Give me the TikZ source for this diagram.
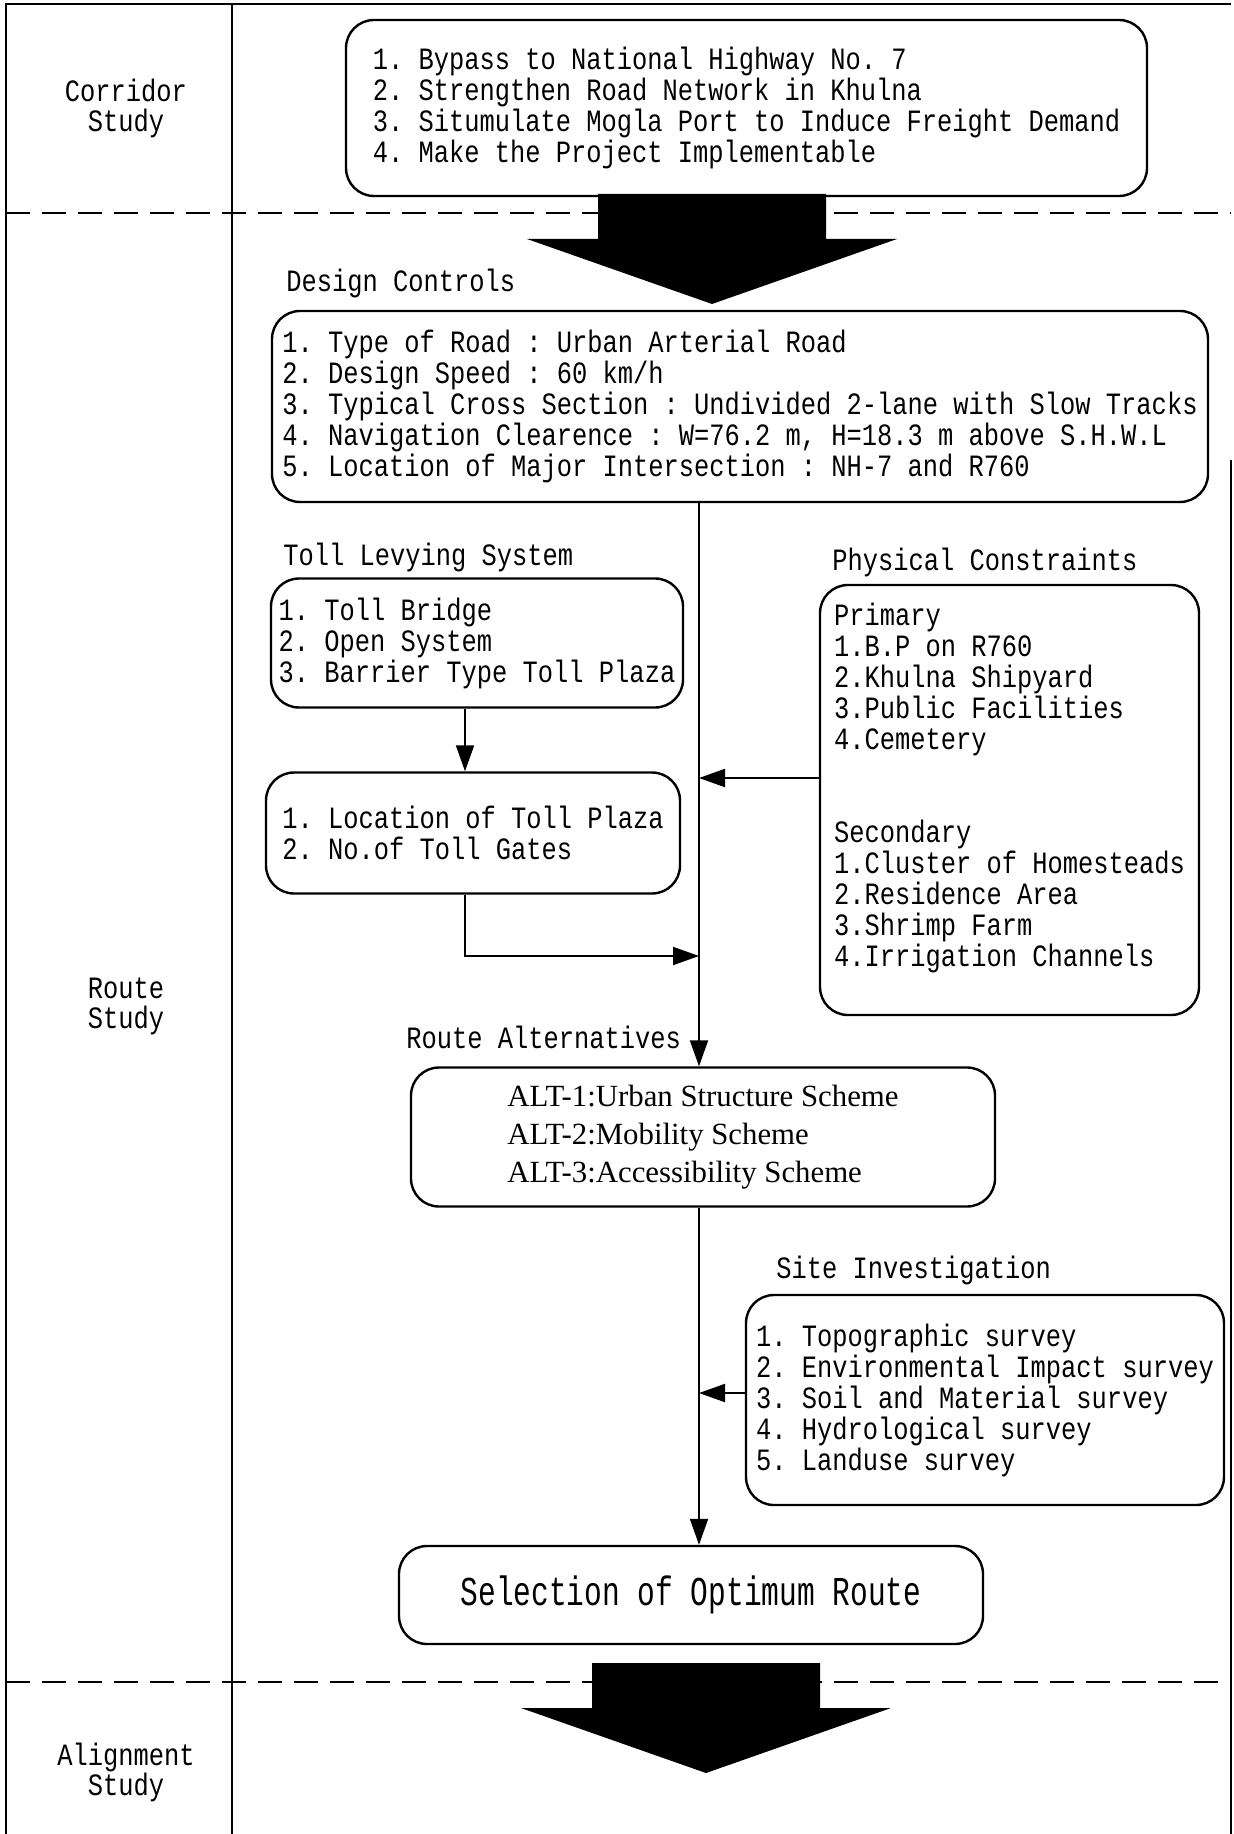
\documentclass[tikz,border=0pt]{standalone}
\usepackage{fontspec}
\newfontfamily\monofont[FakeStretch=0.82]{Liberation Mono}
\newfontfamily\bigmono[FakeStretch=0.72]{Liberation Mono}
\newfontfamily\altfont{Liberation Serif}
\usepackage{tikz}
\usetikzlibrary{arrows.meta,positioning,calc}
\tikzset{
  stepbox/.style={draw,line width=1.2pt,rounded corners=14pt,align=left,inner sep=0pt,
    font=\monofont\fontsize{15.5}{15.5}\selectfont},
  boxlabel/.style={anchor=west,inner sep=0pt,font=\monofont\fontsize{15.5}{15.5}\selectfont},
  stagelabel/.style={align=center,inner sep=0pt,font=\monofont\fontsize{15.5}{15}\selectfont},
  flowarrow/.style={-{Triangle[length=13pt,width=9pt]},line width=1pt},
  stageline/.style={line width=1pt,dash pattern=on 12pt off 6pt},
  framerule/.style={line width=1pt},
  bigdown/.pic={\fill (-114,0) -- (114,0) -- (114,45) -- (185,45) -- (0,110) -- (-185,45) -- (-114,45) -- cycle;}
}
\frenchspacing

\begin{document}
\begin{tikzpicture}[x=0.5pt,y=-0.5pt]
  \useasboundingbox (0,0) rectangle (1234,1834);
  % frame and stage rows
  \draw[framerule] (6,1834) -- (6,4) -- (1231,4);
  \draw[framerule] (1231,460) -- (1231,1834);
  \draw[framerule] (232,4) -- (232,1834);
  \draw[stageline] (6,213) -- (1231,213);
  \draw[stageline] (6,1682) -- (1231,1682);
  \node[stagelabel] (corridor) at (126,108) {Corridor\\Study};
  \node[stagelabel] (route) at (126,1006) {Route\\Study};
  \node[stagelabel] (alignment) at (126,1772) {Alignment\\Study};

  % corridor study
  \node[stepbox,minimum width=400.5pt,minimum height=88pt] (goals) at (746.5,108)
    {1. Bypass to National Highway No. 7\\
     2. Strengthen Road Network in Khulna\\
     3. Situmulate Mogla Port to Induce Freight Demand\\
     4. Make the Project Implementable};
  \pic at (712,194) {bigdown};

  % route study
  \node[boxlabel] (ctrllabel) at (286,283) {Design Controls};
  \node[stepbox,minimum width=468pt,minimum height=95.5pt] (ctrl) at (740,406.5)
    {1. Type of Road : Urban Arterial Road\\
     2. Design Speed : 60 km/h\\
     3. Typical Cross Section : Undivided 2-lane with Slow Tracks\\
     4. Navigation Clearence : W=76.2 m, H=18.3 m above S.H.W.L\\
     5. Location of Major Intersection : NH-7 and R760};

  \node[boxlabel] (tolllabel) at (283,557) {Toll Levying System};
  \node[stepbox,minimum width=206pt,minimum height=64.5pt] (toll) at (477,643)
    {1. Toll Bridge\\
     2. Open System\\
     3. Barrier Type Toll Plaza};
  \node[stepbox,minimum width=207pt,minimum height=60.5pt] (plaza) at (473,833)
    {1. Location of Toll Plaza\\
     2. No.of Toll Gates};

  \node[boxlabel] (physlabel) at (832,562) {Physical Constraints};
  \node[stepbox,minimum width=189.5pt,minimum height=215pt] (phys) at (1009.5,800)
    {Primary\\
     1.B.P on R760\\
     2.Khulna Shipyard\\
     3.Public Facilities\\
     4.Cemetery\\[31pt]
     Secondary\\
     1.Cluster of Homesteads\\
     2.Residence Area\\
     3.Shrimp Farm\\
     4.Irrigation Channels\\
     \mbox{}};

  \node[boxlabel] (altlabel) at (406,1037) {Route Alternatives};
  \node[stepbox,font=\altfont\fontsize{15.4}{19}\selectfont,minimum width=292pt,
    minimum height=69.5pt] (alt) at (703,1137)
    {ALT-1:Urban Structure Scheme\\
     ALT-2:Mobility Scheme\\
     ALT-3:Accessibility Scheme};

  \node[boxlabel] (sitelabel) at (776,1270) {Site Investigation};
  \node[stepbox,minimum width=239pt,minimum height=105pt] (site) at (985,1400)
    {1. Topographic survey\\
     2. Environmental Impact survey\\
     3. Soil and Material survey\\
     4. Hydrological survey\\
     5. Landuse survey};

  \node[stepbox,align=center,font=\bigmono\fontsize{20.5}{22}\selectfont,minimum width=292pt,
    minimum height=49pt] (sel) at (691,1595) {Selection of Optimum Route};

  % connectors
  \coordinate (trunk) at (699,0);
  \coordinate (drop) at (465,0);
  \coordinate (merge) at (699,956);
  \coordinate (pjoin) at (699,778);
  \coordinate (sjoin) at (699,1393);
  \draw[flowarrow] (ctrl.south -| trunk) -- (alt.north -| trunk);
  \draw[flowarrow] (toll.south -| drop) -- (plaza.north -| drop);
  \draw[flowarrow] (plaza.south -| drop) |- (merge);
  \draw[flowarrow] (phys.west |- pjoin) -- (pjoin);
  \draw[flowarrow] (alt.south -| trunk) -- (sel.north -| trunk);
  \draw[flowarrow] (site.west |- sjoin) -- (sjoin);

  % alignment study
  \pic at (706,1663) {bigdown};
\end{tikzpicture}
\end{document}
